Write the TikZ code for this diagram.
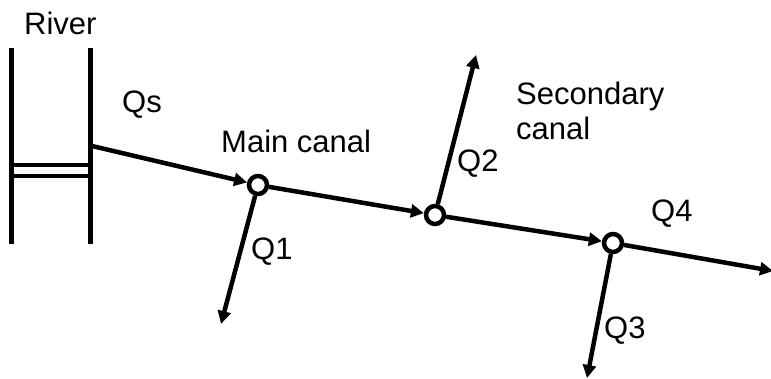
\documentclass[tikz,border=0pt]{standalone}
\usepackage{fontspec}
\setmainfont{Liberation Sans}
\usetikzlibrary{arrows.meta}
\begin{document}
\begin{tikzpicture}[x=1pt,y=-1pt,
  lbl/.style={anchor=base west,inner sep=0pt,font=\fontsize{31}{37}\selectfont},
  junc/.style={circle,draw,line width=4.5pt,fill=white,minimum size=18pt,inner sep=0pt},
  flow/.style={line width=4.5pt,-{Triangle[length=13pt,width=13pt]}},
  bank/.style={line width=5pt}]
\useasboundingbox (0,0) rectangle (771,379);
% river
\draw[bank] (11,48) -- (11,244);
\draw[bank] (90,48) -- (90,244);
\draw[line width=4pt] (11,165) -- (90,165);
\draw[line width=4pt] (11,176) -- (90,176);
\coordinate (src) at (92,146);
% junctions
\node[junc] (n1) at (258,185) {};
\node[junc] (n2) at (435,215) {};
\node[junc] (n3) at (613,243) {};
\coordinate (e4) at (773,271);
\coordinate (e1) at (221,324);
\coordinate (e2) at (476,55);
\coordinate (e3) at (587,378);
% flows
\draw[flow] (src) -- (n1);
\draw[flow] (n1) -- (n2);
\draw[flow] (n2) -- (n3);
\draw[flow] (n3) -- (e4);
\draw[flow] (n1) -- (e1);
\draw[flow] (n2) -- (e2);
\draw[flow] (n3) -- (e3);
% labels
\node[lbl] (tRiver) at (24,35) {River};
\node[lbl] (tQs) at (122,113) {Qs};
\node[lbl] (tMain) at (221,153) {Main canal};
\node[lbl] (tQ1) at (251,260) {Q1};
\node[lbl] (tQ2) at (457,172) {Q2};
\node[lbl] (tSec) at (516,105) {Secondary};
\node[lbl] (tCan) at (516,140) {canal};
\node[lbl] (tQ4) at (651,222) {Q4};
\node[lbl] (tQ3) at (604,338) {Q3};
\end{tikzpicture}
\end{document}
